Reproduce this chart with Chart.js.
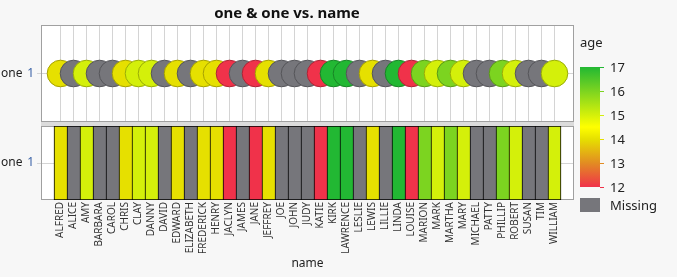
<!DOCTYPE html>
<html><head><meta charset="utf-8">
<script src="https://cdn.jsdelivr.net/npm/chart.js@4.4.1/dist/chart.umd.min.js"></script>
<style>
html,body{margin:0;padding:0;background:#f7f7f7;width:677px;height:277px;overflow:hidden;font-family:"Noto Sans",sans-serif;}
#wrap{position:relative;width:677px;height:277px;}
canvas{position:absolute;left:0;}
.t{position:absolute;white-space:nowrap;color:#222;}
</style></head><body>
<div id="wrap">
<div id="band" style="position:absolute;left:41px;top:122px;width:533px;height:4px;background:#dcdcdc;"></div>
<canvas id="top" width="677" height="124" style="top:0"></canvas>
<canvas id="bot" width="677" height="153" style="top:124px"></canvas>
<div class="t" style="left:0;top:3px;width:574px;text-align:center;font-weight:bold;font-size:15px;line-height:18px;color:#111;">one &amp; one vs. name</div>
<div class="t" style="left:1px;top:65px;font-size:12px;line-height:16px;">one</div>
<div class="t" style="left:1px;top:154px;font-size:12px;line-height:16px;">one</div>
<div class="t" style="left:580px;top:33px;font-size:13px;line-height:18px;">age</div>
<div id="legend"></div>
</div>
<script>
const names = ["ALFRED","ALICE","AMY","BARBARA","CAROL","CHRIS","CLAY","DANNY","DAVID","EDWARD","ELIZABETH","FREDERICK","HENRY","JACLYN","JAMES","JANE","JEFFREY","JOE","JOHN","JUDY","KATIE","KIRK","LAWRENCE","LESLIE","LEWIS","LILLIE","LINDA","LOUISE","MARION","MARK","MARTHA","MARY","MICHAEL","PATTY","PHILLIP","ROBERT","SUSAN","TIM","WILLIAM"];
const ages = [14,null,15,null,null,14,15,15,null,14,null,14,14,12,null,12,14,null,null,null,12,17,17,null,14,null,17,12,16,15,16,15,null,null,16,15,null,null,15];
const oneValue = 1;
const ageTicks = [12,13,14,15,16,17];

const FONT = '"Noto Sans", sans-serif';
const MISSING = [118,118,123];
const stops = [[12,[240,50,74]],[13,[226,140,34]],[14,[230,224,0]],[14.5,[255,255,0]],[15,[212,240,10]],[16,[124,212,32]],[17,[34,184,51]]];
function rgbFor(v){
  if(v===null||v===undefined) return MISSING;
  if(v<=stops[0][0]) return stops[0][1];
  for(let i=1;i<stops.length;i++){
    if(v<=stops[i][0]){
      const [a,ca]=stops[i-1],[b,cb]=stops[i];const t=(v-a)/(b-a);
      return ca.map((c,k)=>Math.round(c+(cb[k]-c)*t));
    }
  }
  return stops[stops.length-1][1];
}
const css=(c,f=1)=>`rgb(${c.map(x=>Math.round(x*f)).join(',')})`;
const fills = ages.map(a=>css(rgbFor(a)));
const edges = ages.map(a=>css(rgbFor(a),0.72));

const xMin=-1.5, xMax=names.length+0.5;
const catTicks = s=>{ s.ticks = names.map((_,i)=>({value:i})); };
const oneTick = s=>{ s.ticks = [{value:oneValue}]; };

const panel = {
  id:'panel',
  beforeDraw(chart){
    const {ctx,chartArea:a}=chart;
    ctx.save();ctx.fillStyle='#fff';ctx.fillRect(a.left,a.top,a.right-a.left,a.bottom-a.top);ctx.restore();
  },
  beforeDatasetsDraw(chart){
    const {ctx,chartArea:a}=chart;
    ctx.save();ctx.strokeStyle='#a0a0a0';ctx.lineWidth=1;
    ctx.strokeRect(Math.round(a.left)+0.5,Math.round(a.top)+0.5,Math.round(a.right-a.left)-1,Math.round(a.bottom-a.top)-1);
    ctx.restore();
  }
};

const yScale = () => ({
  min:0,max:2,afterBuildTicks:oneTick,
  ticks:{color:'#3c64a8',font:{size:12,family:FONT},padding:3,callback:v=>String(v)},
  grid:{color:'#d4d4d4',tickLength:4},
  border:{display:false},
  afterFit:s=>{s.width=41;s.paddingTop=0;s.paddingBottom=0;}
});

new Chart(document.getElementById('top'),{
  type:'scatter',
  data:{datasets:[{data:names.map((n,i)=>({x:i,y:oneValue})),pointRadius:13.3,pointHoverRadius:13.3,
    backgroundColor:fills,borderColor:edges,borderWidth:1,pointBorderWidth:1}]},
  options:{responsive:false,animation:false,devicePixelRatio:1,events:[],clip:false,
    layout:{autoPadding:false,padding:{left:0,right:103,top:25,bottom:2}},
    plugins:{legend:{display:false},tooltip:{enabled:false}},
    scales:{
      x:{type:'linear',min:xMin,max:xMax,offset:false,afterBuildTicks:catTicks,ticks:{display:false},
        grid:{color:'#d4d4d4',drawTicks:false,offset:false},border:{display:false},
        afterFit:s=>{s.height=0;s.paddingLeft=0;s.paddingRight=0;}},
      y:yScale()
    }},
  plugins:[panel]
});

new Chart(document.getElementById('bot'),{
  type:'bar',
  data:{datasets:[{data:names.map((n,i)=>({x:i,y:[0,2]})),backgroundColor:fills,borderColor:'#000',
    borderWidth:ctx=>({left:1,top:1,bottom:1,right:ctx.dataIndex===names.length-1?1:0}),
    borderSkipped:false,barPercentage:1,categoryPercentage:1}]},
  options:{responsive:false,animation:false,devicePixelRatio:1,events:[],
    layout:{autoPadding:false,padding:{left:0,right:103,top:2,bottom:0}},
    plugins:{legend:{display:false},tooltip:{enabled:false}},
    scales:{
      x:{type:'linear',min:xMin,max:xMax,offset:false,afterBuildTicks:catTicks,
        ticks:{autoSkip:false,minRotation:90,maxRotation:90,padding:2,color:'#333',font:{size:10,family:FONT},
          callback:v=>names[v]??''},
        grid:{color:'#d4d4d4',drawTicks:false,offset:false},border:{display:false},
        title:{display:true,text:'name',color:'#222',font:{size:12,family:FONT},padding:{top:0,bottom:6}},
        afterFit:s=>{s.height=77;s.paddingLeft=0;s.paddingRight=0;}},
      y:yScale()
    }},
  plugins:[panel]
});

// colour legend
const lg=document.getElementById('legend');
const top0=67, bh=120, unit=bh/(ageTicks[ageTicks.length-1]-ageTicks[0]);
const grad=stops.slice().reverse().map(([v,c])=>`${css(c)} ${((17-v)*unit/bh*100).toFixed(1)}%`).join(',');
lg.innerHTML += `<div style="position:absolute;left:580px;top:${top0}px;width:20px;height:${bh}px;background:linear-gradient(to bottom,${grad});"></div>`;
ageTicks.forEach(v=>{
  const y=top0+(17-v)*unit;
  lg.innerHTML += `<div style="position:absolute;left:600px;top:${y-0.5}px;width:4px;height:1px;background:${css(rgbFor(v))};"></div>`;
  lg.innerHTML += `<div class="t" style="left:610px;top:${y-9}px;font-size:13px;line-height:18px;">${v}</div>`;
});
lg.innerHTML += `<div style="position:absolute;left:580px;top:198px;width:20px;height:14px;background:${css(MISSING)};"></div>`;
lg.innerHTML += `<div class="t" style="left:610px;top:196px;font-size:13px;line-height:18px;">Missing</div>`;
</script>
</body></html>
